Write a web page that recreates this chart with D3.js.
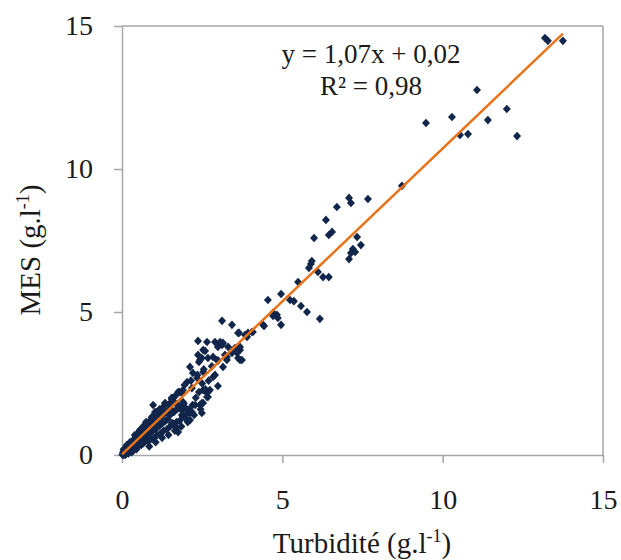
<!DOCTYPE html>
<html>
<head>
<meta charset="utf-8">
<script src="https://cdn.jsdelivr.net/npm/d3@7"></script>
<style>
  html, body { margin: 0; padding: 0; background: #fff; }
  svg { display: block; }
  text { font-family: "Liberation Serif", "Times New Roman", serif; fill: #1a1a1a; }
</style>
</head>
<body>
<svg id="chart" width="621" height="560"></svg>
<script>
// ---- data ----
const turbidite = [
  0.01,0.03,0.04,0.06,0.07,0.09,0.10,0.12,0.13,0.15,0.16,0.18,0.19,0.21,0.22,0.24,0.25,0.27,0.28,0.30,
  0.31,0.33,0.34,0.36,0.38,0.39,0.41,0.42,0.44,0.45,0.47,0.48,0.50,0.51,0.53,0.55,0.56,0.58,0.60,0.61,0.63,0.65,0.66,0.68,0.70,
  0.72,0.73,0.75,0.77,0.78,0.80,0.82,0.83,0.85,0.87,0.88,0.90,0.92,0.93,0.95,0.97,0.98,1.00,1.02,1.03,1.05,1.07,1.08,1.10,1.12,1.14,1.15,1.17,1.19,1.20,
  1.22,1.24,1.26,1.30,1.32,1.36,1.38,1.42,1.45,1.47,1.52,1.55,1.57,1.62,1.65,1.68,1.70,1.72,1.80,1.82,1.88,1.93,1.98,
  2.53,2.37,2.43,2.99,3.12,3.21,3.27,2.12,2.53,2.21,2.34,2.03,2.18,2.53,2.74,2.68,2.49,1.90,1.87,1.59,1.50,1.34,1.28,1.75,1.90,2.03,2.18,1.87,1.18,1.03,0.97,1.50,
  2.43,2.49,2.12,1.75,2.65,
  4.55,3.12,3.43,3.65,3.93,4.08,4.40,4.71,4.83,3.06,3.15,2.65,2.90,3.31,3.52,3.68,3.59,3.62,3.27,3.43,2.84,2.68,2.96,2.49,3.68,
  3.84,3.74,3.49,2.37,3.15,2.84,2.99,2.65,2.40,2.59,
  7.08,7.14,7.67,6.70,6.36,6.55,6.45,5.99,7.33,7.45,7.20,7.27,7.14,7.08,5.92,5.89,5.83,6.11,6.27,6.45,5.49,
  4.96,5.24,5.36,5.58,5.77,6.17,4.86,4.71,4.96,4.43,4.05,3.90,3.62,3.68,
  8.73,9.48,10.29,10.54,10.79,11.07,11.41,12.00,12.32,13.19,13.28,13.75,
  0.35,0.40,0.45,0.50,0.55,0.60,0.65,0.70,0.75,0.80,0.85,0.90,0.95,1.00,1.05,1.10,1.15,1.20,1.25,1.30,
  1.35,1.40,1.45,1.50,1.55,1.60,1.65,1.70,1.75,1.80,1.85,1.90,1.95,2.00,2.05,2.10,2.15,2.20,2.25,2.30,
  2.35,2.40,2.45,2.50,2.55,2.60,2.70,2.80,2.90,3.00,
  0.05,0.10,0.15,0.20,0.25,0.30,
  1.56,2.03,2.12,2.53,2.28
];
const mes = [
  0.02,0.10,0.00,0.05,0.15,0.08,0.20,0.04,0.12,0.25,0.10,0.18,0.30,0.12,0.22,0.35,0.15,0.28,0.40,0.20,
  0.33,0.48,0.25,0.38,0.55,0.30,0.45,0.62,0.36,0.50,0.70,0.40,0.55,0.78,0.45,0.62,0.87,0.50,0.68,0.92,0.55,0.72,1.00,0.60,0.80,
  0.95,0.62,0.85,1.05,0.68,0.90,1.12,0.72,0.95,1.20,0.78,1.00,1.30,0.82,1.05,1.75,0.88,1.12,1.38,0.90,1.18,1.50,0.95,1.25,1.45,1.00,1.30,1.60,1.05,1.35,
  1.55,1.10,1.40,1.15,1.45,1.20,1.50,1.25,1.58,1.75,1.62,1.95,1.12,1.50,2.05,1.80,0.95,1.60,2.20,1.70,1.55,1.80,1.65,
  3.67,3.50,3.32,3.78,3.85,3.50,3.32,3.08,2.90,2.87,2.69,2.55,2.34,2.27,2.27,2.03,1.82,2.27,2.17,1.99,1.82,1.82,1.68,1.68,1.85,1.57,1.50,1.40,1.50,1.50,1.33,1.40,
  1.75,1.47,1.22,0.80,2.17,
  5.42,4.69,4.55,4.27,4.27,4.30,4.55,4.97,4.90,3.95,3.92,3.95,3.95,3.78,3.74,3.67,3.57,3.39,3.43,3.57,3.43,3.39,3.32,3.39,3.32,
  4.20,3.32,3.67,3.99,3.08,2.73,2.41,2.03,3.25,3.64,
  8.99,8.81,8.95,8.67,8.22,7.80,7.69,7.59,7.62,7.34,7.20,7.10,7.06,6.85,6.78,6.68,6.54,6.40,6.22,6.22,6.05,
  5.63,5.42,5.38,5.21,5.00,4.76,4.79,4.86,4.55,4.51,4.30,4.13,4.27,3.78,
  9.41,11.61,11.82,11.19,11.22,12.76,11.71,12.10,11.15,14.58,14.48,14.48,
  0.15,0.70,0.20,0.30,0.85,0.35,0.40,0.45,1.15,0.50,0.30,0.55,1.35,0.60,0.45,0.70,1.55,0.75,0.60,0.85,
  1.80,0.90,0.70,1.00,2.00,1.05,0.85,1.15,2.20,1.20,1.00,1.35,2.45,1.40,1.15,1.60,2.60,1.75,1.40,2.00,
  2.80,2.20,1.60,2.50,3.00,2.30,2.60,3.10,2.80,3.30,
  0.20,0.00,0.35,0.05,0.45,0.10,
  1.12,1.22,1.47,1.82,1.75
];
const xTicks = [0, 5, 10, 15];
const yTicks = [0, 5, 10, 15];
const slope = 1.07, intercept = 0.02;
const equationLines = ["y = 1,07x + 0,02", "R² = 0,98"];

// ---- chart ----
const svg = d3.select("#chart");
const mLeft = 122, mRight = 603, mTop = 26, mBottom = 455;
const x = d3.scaleLinear().domain([0, 15]).range([mLeft, mRight]);
const y = d3.scaleLinear().domain([0, 15]).range([mBottom, mTop]);
const axisColor = "#a6a6a6";

// frame (top & right)
svg.append("line").attr("x1", mLeft).attr("x2", mRight).attr("y1", mTop).attr("y2", mTop)
  .attr("stroke", axisColor).attr("stroke-width", 1.5);
svg.append("line").attr("x1", mRight).attr("x2", mRight).attr("y1", mTop).attr("y2", mBottom)
  .attr("stroke", axisColor).attr("stroke-width", 1.5);

const xAxis = svg.append("g").attr("transform", `translate(0,${mBottom})`)
  .call(d3.axisBottom(x).tickValues(xTicks).tickSize(8).tickSizeOuter(0).tickPadding(26).tickFormat(d3.format("d")));
const yAxis = svg.append("g").attr("transform", `translate(${mLeft},0)`)
  .call(d3.axisLeft(y).tickValues(yTicks).tickSize(8).tickSizeOuter(0).tickPadding(21).tickFormat(d3.format("d")));
[xAxis, yAxis].forEach(g => {
  g.select(".domain").attr("stroke", axisColor).attr("stroke-width", 1.5);
  g.selectAll(".tick line").attr("stroke", axisColor).attr("stroke-width", 1.5);
  g.selectAll(".tick text").attr("font-size", 28).attr("fill", "#1a1a1a")
    .attr("font-family", "Liberation Serif, Times New Roman, serif");
});

// points
const pts = turbidite.map((t, i) => [t, mes[i]]);
svg.append("g").selectAll("path").data(pts).enter().append("path")
  .attr("d", "M0,-4.3L4,0L0,4.3L-4,0Z")
  .attr("transform", d => `translate(${x(d[0])},${y(d[1])})`)
  .attr("fill", "#11264a");

// regression line
const xMax = d3.max(turbidite);
svg.append("line")
  .attr("x1", x(0)).attr("y1", y(intercept))
  .attr("x2", x(xMax)).attr("y2", y(slope * xMax + intercept))
  .attr("stroke", "#e8731a").attr("stroke-width", 2.5);

// equation
svg.append("g").selectAll("text").data(equationLines).enter().append("text")
  .attr("x", 371).attr("y", (d, i) => 63 + i * 32)
  .attr("text-anchor", "middle").attr("font-size", 27)
  .text(d => d);

// axis titles
const xt = svg.append("text").attr("x", 362).attr("y", 553).attr("text-anchor", "middle").attr("font-size", 29);
xt.append("tspan").text("Turbidité (g.l");
xt.append("tspan").attr("font-size", 18).attr("dy", -11).text("-1");
xt.append("tspan").attr("dy", 11).text(")");

const yt = svg.append("text").attr("transform", "translate(40,250) rotate(-90)")
  .attr("text-anchor", "middle").attr("font-size", 29);
yt.append("tspan").text("MES (g.l");
yt.append("tspan").attr("font-size", 18).attr("dy", -11).text("-1");
yt.append("tspan").attr("dy", 11).text(")");
</script>
</body>
</html>
